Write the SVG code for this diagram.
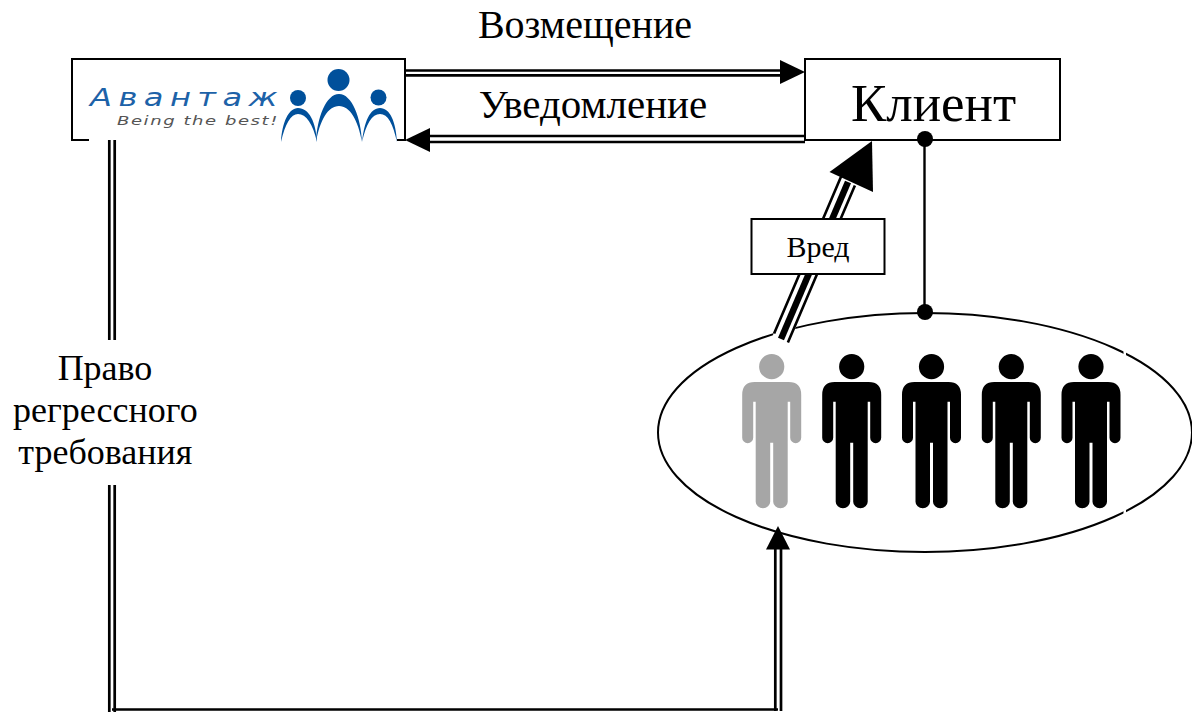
<svg xmlns="http://www.w3.org/2000/svg" width="1192" height="713" viewBox="0 0 1192 713">
<style>
.t{font-family:"Liberation Serif","Times New Roman",serif;fill:#000;text-anchor:middle}
.c{fill:none;stroke:#000}
.d{fill:none;stroke:#000;stroke-width:2.7}
.b{fill:#fff;stroke:#000;stroke-width:2}
.h{fill:#000}
.l{fill:#00509b}
</style>
<defs>
<g id="person">
<circle cx="0" cy="0" r="12.6"/>
<path d="M-17 15.3H17Q29.500 15.300 29.500 28L29.500 71A5.500 5.500 0 0 1 18.500 71L18.500 35H16V135A7.200 6.500 0 0 1 1.500 135V76H-1.500V135A7.200 6.500 0 0 1 -16 135V35H-18.500V71A5.500 5.500 0 0 1 -29.500 71V28Q-29.500 15.300 -17 15.300Z"/>
</g>
</defs>
<rect width="1192" height="713" fill="#fff"/>
<g id="node-group">
<ellipse cx="925" cy="432.500" rx="267" ry="119.500" fill="none" stroke="#000" stroke-width="2"/>
<rect x="1123.500" y="349" width="2.500" height="6" fill="#fff"/>
<rect x="1123.500" y="510" width="2.500" height="6" fill="#fff"/>
<use href="#person" x="771.700" y="366.700" fill="#a6a6a6"/>
<use href="#person" x="851.700" y="366.700" fill="#000"/>
<use href="#person" x="931.500" y="366.700" fill="#000"/>
<use href="#person" x="1011.300" y="366.700" fill="#000"/>
<use href="#person" x="1091" y="366.700" fill="#000"/>
</g>
<g id="node-avantage">
<rect class="b" x="72" y="59" width="333" height="81"/>
<rect x="89" y="135" width="308" height="8" fill="#fff"/>
<text x="90" y="105.500" font-family="DejaVu Sans,Liberation Sans,sans-serif" font-weight="200" font-size="25" font-style="italic" fill="#1d62a8" letter-spacing="5" textLength="194" lengthAdjust="spacingAndGlyphs">Авантаж</text>
<text x="117" y="125" font-family="DejaVu Sans,Liberation Sans,sans-serif" font-size="11.500" font-style="italic" fill="#555" letter-spacing="1" textLength="162" lengthAdjust="spacingAndGlyphs">Being the best!</text>
<circle class="l" cx="338.500" cy="80" r="11"/>
<circle class="l" cx="298" cy="98" r="8"/>
<circle class="l" cx="378.500" cy="97.500" r="8"/>
<path class="l" d="M316 142C317 118 326 94 339 94C352 94 361 118 362 142C358 120 350 106 339 106C328 106 320 120 316 142Z"/>
<path class="l" d="M281 142C282 122 289 108 298 108C309 108 316 122 317 142C313 124 306 114 298 114C291 114 285 124 281 142Z"/>
<path class="l" d="M362 142C364 122 370 108 380 108C390 108 396 122 397 142C393 124 388 114 380 114C372 114 366 124 362 142Z"/>
</g>
<g id="node-client">
<rect class="b" x="805" y="59" width="255" height="81"/>
<text class="t" x="933.500" y="121" font-size="53">Клиент</text>
</g>
<g id="connectors">
<path class="d" d="M405 70.500H788M405 75.300H788"/>
<polygon class="h" points="805,72 780,60 780,84"/>
<path class="d" d="M805 136H422M805 142H422"/>
<polygon class="h" points="405,140 430,128 430,152"/>
<path class="d" d="M109.300 140V340M114.700 140V340M109.300 485V712M114.700 485V712M112 709.500H778M775.300 711V545M781 711V545"/>
<polygon class="h" points="778,526 766,549.500 790,549.500"/>
<path d="M924.500 139V312" class="c" stroke-width="2.400"/>
<circle class="h" cx="925" cy="139" r="8"/>
<circle class="h" cx="925" cy="312" r="8"/>
<path d="M781 339L848 182" stroke="#fff" stroke-width="18" fill="none"/>
<path d="M781 339L848 182" stroke="#000" stroke-width="6.500" fill="none"/>
<path d="M774.100 333.600L841.100 176.600M787.900 342.400L854.900 185.400" stroke="#000" stroke-width="2.600" fill="none"/>
<polygon class="h" points="872,141 829.500,172 873,192"/>
</g>
<g id="node-harm">
<rect class="b" x="751.500" y="219" width="133" height="55"/>
<text class="t" x="818" y="257" font-size="30">Вред</text>
</g>
<g id="labels">
<text class="t" x="585" y="38" font-size="40">Возмещение</text>
<text class="t" x="593" y="118" font-size="41">Уведомление</text>
<text class="t" x="105" y="380" font-size="36">Право</text>
<text class="t" x="105.300" y="422" font-size="36">регрессного</text>
<text class="t" x="105.300" y="464" font-size="36">требования</text>
</g>
</svg>
